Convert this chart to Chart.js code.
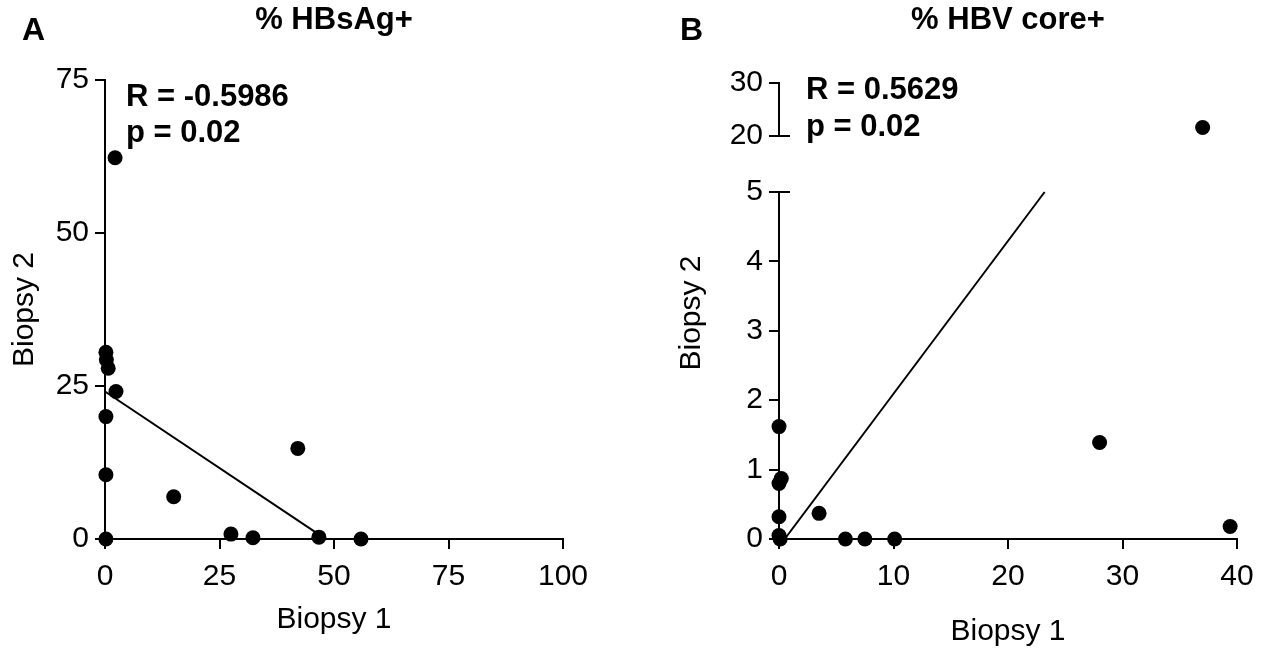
<!DOCTYPE html>
<html>
<head>
<meta charset="utf-8">
<script src="https://cdn.jsdelivr.net/npm/chart.js@4.4.1/dist/chart.umd.min.js"></script>
<style>
  body { margin: 0; background: #fff; }
  #wrap { position: relative; width: 1266px; height: 654px; }
  canvas { position: absolute; }
</style>
</head>
<body>
<div id="wrap">
  <canvas id="chartA" style="left:0;top:0" width="640" height="654"></canvas>
  <canvas id="chartBLow" style="left:640px;top:0" width="626" height="654"></canvas>
  <canvas id="chartBHigh" style="left:640px;top:0" width="626" height="160"></canvas>
</div>
<script>
// % HBsAg+ : biopsy 1 vs biopsy 2
const hbsAgBiopsy1 = [2.2, 0.2, 0.3, 0.7, 2.4, 0.2, 0.2, 0.2, 15.0, 27.5, 32.3, 42.1, 46.7, 55.9]
const hbsAgBiopsy2 = [62.3, 30.5, 29.3, 27.9, 24.1, 20.0, 10.5, 0.0, 6.9, 0.8, 0.2, 14.8, 0.3, 0.0]
const hbsAgFitX = [0, 47]
const hbsAgFitY = [24.1, 0.6]
const hbsAgTicksX = [0, 25, 50, 75, 100]
const hbsAgTicksY = [0, 25, 50, 75]

// % HBV core+ : biopsy 1 vs biopsy 2 (y axis broken between 5 and 20)
const coreBiopsy1 = [0, 0, 0.2, 0, 0, 0.1, 3.5, 5.8, 7.5, 10.1, 28.0, 39.4, 37.0]
const coreBiopsy2 = [1.62, 0.8, 0.87, 0.32, 0.05, 0, 0.37, 0, 0, 0, 1.39, 0.18, 21.6]
const coreFitX = [0.5, 23.2]
const coreFitY = [0, 5]
const coreTicksX = [0, 10, 20, 30, 40]
const coreTicksLow = [0, 1, 2, 3, 4, 5]
const coreTicksHigh = [20, 30]

const black = '#000'
const FONT = '"Liberation Sans", Arial, sans-serif'
Chart.defaults.font.family = FONT
Chart.defaults.color = black
Chart.defaults.animation = false

function toPoints(xs, ys, keep) {
    return xs.map((x, i) => ({ x: x, y: ys[i] })).filter(p => !keep || keep(p.y))
}

function axis(min, max, ticks, size, tickPad, title, titlePad) {
    return {
        type: 'linear', min: min, max: max,
        afterBuildTicks: s => { s.ticks = ticks.map(v => ({ value: v })) },
        afterFit: s => { if (s.isHorizontal()) s.height = size; else s.width = size },
        border: { display: true, color: black, width: 2 },
        grid: { display: true, drawOnChartArea: false, drawTicks: true, tickLength: 10, color: black, lineWidth: 2 },
        ticks: { font: { size: 30 }, color: black, padding: tickPad, maxRotation: 0, autoSkip: false },
        title: title
            ? { display: true, text: title, font: { size: 30 }, color: black, padding: titlePad || 0 }
            : { display: false }
    }
}

function dotSet(data) {
    return { data: data, pointRadius: 7.5, pointHoverRadius: 7.5, backgroundColor: black, borderWidth: 0, clip: false }
}

function fitSet(xs, ys) {
    return { data: toPoints(xs, ys), showLine: true, pointRadius: 0, borderColor: black, borderWidth: 2, clip: false }
}

// free text: panel letters, titles, correlation stats
const panelText = {
    id: 'panelText',
    afterDraw(chart, args, opts) {
        const ctx = chart.ctx
        ctx.save()
        ctx.fillStyle = black
        ctx.textBaseline = 'middle'
        ;(opts.items || []).forEach(t => {
            ctx.font = (t.bold ? 'bold ' : '') + t.size + 'px ' + FONT
            ctx.textAlign = t.align || 'left'
            if (t.rotate) {
                ctx.save()
                ctx.translate(t.x, t.y)
                ctx.rotate(-Math.PI / 2)
                ctx.fillText(t.text, 0, 0)
                ctx.restore()
            } else {
                ctx.fillText(t.text, t.x, t.y)
            }
        })
        ctx.restore()
    }
}

// ticks at the ends of an axis break cross the axis line
const breakTicks = {
    id: 'breakTicks',
    afterDraw(chart, args, opts) {
        if (!opts.values) return
        const y = chart.scales.y
        const ctx = chart.ctx
        ctx.save()
        ctx.strokeStyle = black
        ctx.lineWidth = 2
        opts.values.forEach(v => {
            const py = Math.round(y.getPixelForValue(v))
            ctx.beginPath()
            ctx.moveTo(y.right, py)
            ctx.lineTo(y.right + 11, py)
            ctx.stroke()
        })
        ctx.restore()
    }
}

const basePlugins = { legend: { display: false }, tooltip: { enabled: false } }

new Chart(document.getElementById('chartA'), {
    type: 'scatter',
    data: { datasets: [dotSet(toPoints(hbsAgBiopsy1, hbsAgBiopsy2)), fitSet(hbsAgFitX, hbsAgFitY)] },
    options: {
        responsive: false,
        layout: { padding: { left: 0, right: 77, top: 80, bottom: 16 } },
        scales: {
            x: axis(0, 100, hbsAgTicksX, 99, 10, 'Biopsy 1'),
            y: axis(0, 75, hbsAgTicksY, 105, 6, 'Biopsy 2', { top: 7, bottom: 0 })
        },
        plugins: Object.assign({
            panelText: { items: [
                { text: 'A', x: 22, y: 31, size: 32, bold: true },
                { text: '% HBsAg+', x: 334, y: 20, size: 31, bold: true, align: 'center' },
                { text: 'R = -0.5986', x: 126, y: 97, size: 31, bold: true },
                { text: 'p = 0.02', x: 126, y: 133, size: 31, bold: true }
            ] }
        }, basePlugins)
    },
    plugins: [panelText]
})

new Chart(document.getElementById('chartBLow'), {
    type: 'scatter',
    data: { datasets: [dotSet(toPoints(coreBiopsy1, coreBiopsy2, y => y <= 5)), fitSet(coreFitX, coreFitY)] },
    options: {
        responsive: false,
        layout: { padding: { left: 0, right: 29, top: 192, bottom: 4 } },
        scales: {
            x: axis(0, 40, coreTicksX, 111, 10, 'Biopsy 1'),
            y: axis(0, 5, coreTicksLow, 139, 6)
        },
        plugins: Object.assign({
            breakTicks: { values: [5] },
            panelText: { items: [
                { text: 'B', x: 40, y: 31, size: 32, bold: true },
                { text: '% HBV core+', x: 368, y: 20, size: 31, bold: true, align: 'center' },
                { text: 'R = 0.5629', x: 166, y: 90, size: 31, bold: true },
                { text: 'p = 0.02', x: 166, y: 127, size: 31, bold: true },
                { text: 'Biopsy 2', x: 52, y: 313, size: 30, rotate: true, align: 'center' }
            ] }
        }, basePlugins)
    },
    plugins: [panelText, breakTicks]
})

new Chart(document.getElementById('chartBHigh'), {
    type: 'scatter',
    data: { datasets: [dotSet(toPoints(coreBiopsy1, coreBiopsy2, y => y >= 20))] },
    options: {
        responsive: false,
        layout: { padding: { left: 0, right: 29, top: 83, bottom: 20 } },
        scales: {
            x: Object.assign(axis(0, 40, coreTicksX, 0, 10), { display: false }),
            y: axis(20, 30, coreTicksHigh, 139, 6)
        },
        plugins: Object.assign({ breakTicks: { values: [20] } }, basePlugins)
    },
    plugins: [breakTicks]
})
</script>
</body>
</html>
